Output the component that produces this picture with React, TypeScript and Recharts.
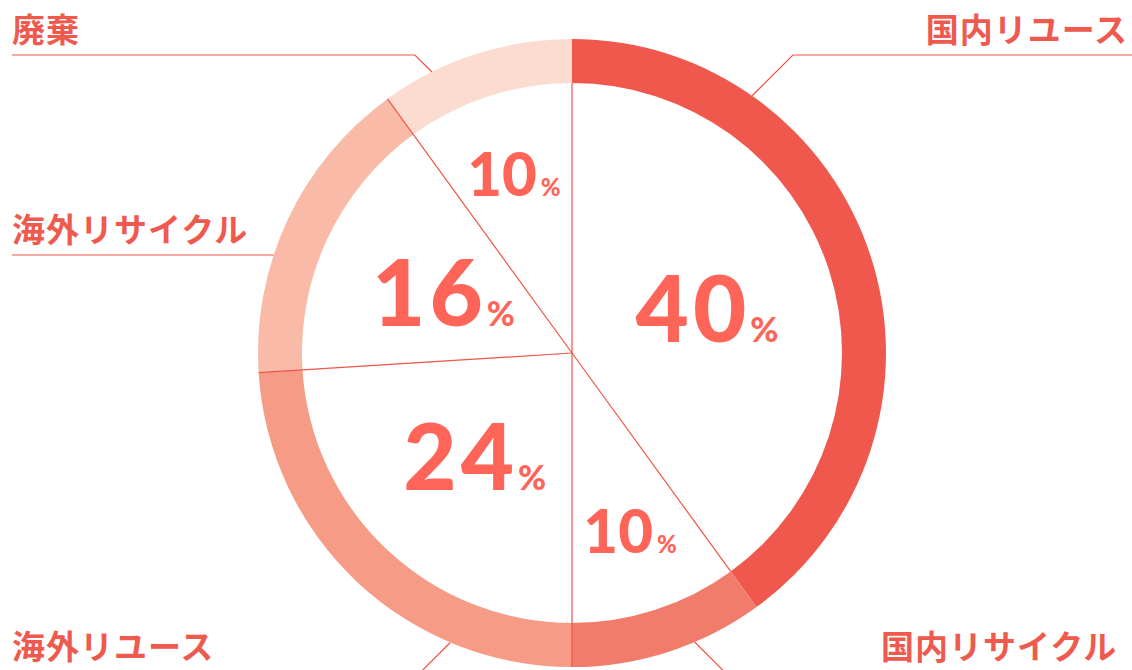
import { PieChart, Pie, Cell } from "recharts";

// share of collected items by destination (%)
const categories = ["国内リユース", "国内リサイクル", "海外リユース", "海外リサイクル", "廃棄"];
const shares = [40, 10, 24, 16, 10];

const COLORS = ["#F0584D", "#F27C6B", "#F59B86", "#F9BBA8", "#FCDCD1"];
const LINE = "#EF5548";
const TEXT = "#EF5A4F";
const NUM = "#FF6459";

const W = 1132;
const H = 670;
const CX = 572;
const CY = 353;
const R_OUT = 314;
const R_IN = 270;

// where each name's leader leaves the ring (deg clockwise from 12 o'clock) and where the name sits
const LEADERS = [
  { angle: 35, ruleY: 55, ruleTo: W, textX: 1128, textY: 42, anchor: "end" },
  { angle: 157, ruleY: 673, ruleTo: W, textX: 881, textY: 659, anchor: "start" },
  { angle: 202.8, ruleY: 673, ruleTo: 12, textX: 12, textY: 659, anchor: "start" },
  { angle: 288.2, ruleY: 255, ruleTo: 12, textX: 12, textY: 242, anchor: "start" },
  { angle: 333.5, ruleY: 55, ruleTo: 12, textX: 12, textY: 42, anchor: "start" },
];

const data = categories.map((name, i) => ({ name, value: shares[i] }));

const RAD = Math.PI / 180;

// thin radius line at the start edge of each slice
const Divider = (props: any) => {
  const { cx, cy, startAngle } = props;
  const reach = startAngle > -89 ? R_IN : R_OUT;
  return (
    <line
      x1={cx}
      y1={cy}
      x2={cx + reach * Math.cos(startAngle * RAD)}
      y2={cy - reach * Math.sin(startAngle * RAD)}
      stroke={LINE}
      strokeWidth={1.2}
    />
  );
};

const renderLabel = (props: any) => {
  const { cx, cy, midAngle, index, value, name } = props;
  const big = value >= 16;
  const r = big ? 142 : 188;
  const px = cx + r * Math.cos(midAngle * RAD);
  const py = cy - r * Math.sin(midAngle * RAD);
  const numSize = big ? 92 : 60;
  const pctSize = big ? 34 : 24;

  const lead = LEADERS[index];
  const a = lead.angle * RAD;
  const rx = cx + R_OUT * Math.sin(a);
  const ry = cy - R_OUT * Math.cos(a);
  const toRight = lead.ruleTo > rx;
  const ex = rx + (toRight ? 1 : -1) * Math.abs(ry - lead.ruleY);

  return (
    <g key={`lbl-${index}`}>
      <text
        x={px}
        y={py + numSize * 0.36}
        textAnchor="middle"
        fill={NUM}
        fontFamily="Lato, 'Open Sans', sans-serif"
        fontWeight={900}
      >
        <tspan fontSize={numSize} letterSpacing={big ? 4 : 0}>{value}</tspan>
        <tspan fontSize={pctSize} dx={big ? 0 : 4}>%</tspan>
      </text>
      <polyline
        points={`${rx},${ry} ${ex},${lead.ruleY} ${lead.ruleTo},${lead.ruleY}`}
        fill="none"
        stroke={LINE}
        strokeWidth={1.2}
      />
      <text
        x={lead.textX}
        y={lead.textY}
        textAnchor={lead.anchor as any}
        fill={TEXT}
        fontSize={33}
        fontWeight={700}
        letterSpacing={1}
        fontFamily="'Noto Sans CJK JP', sans-serif"
      >
        {name}
      </text>
    </g>
  );
};

export default function App() {
  return (
    <div
      style={{
        position: "absolute",
        left: 0,
        top: 0,
        width: W,
        height: H,
        overflow: "hidden",
        background: "#fff",
      }}
    >
      <PieChart width={W} height={H} margin={{ top: 0, right: 0, bottom: 0, left: 0 }}>
        <Pie
          data={data}
          dataKey="value"
          nameKey="name"
          cx={CX}
          cy={CY}
          innerRadius={R_IN}
          outerRadius={R_OUT}
          startAngle={90}
          endAngle={-270}
          stroke="none"
          isAnimationActive={false}
        >
          {data.map((d, i) => (
            <Cell key={`cell-${i}`} fill={COLORS[i]} />
          ))}
        </Pie>
        <Pie
          data={data}
          dataKey="value"
          nameKey="name"
          cx={CX}
          cy={CY}
          innerRadius={0}
          outerRadius={R_IN}
          startAngle={90}
          endAngle={-270}
          shape={Divider}
          label={renderLabel}
          labelLine={false}
          isAnimationActive={false}
        />
      </PieChart>
    </div>
  );
}
